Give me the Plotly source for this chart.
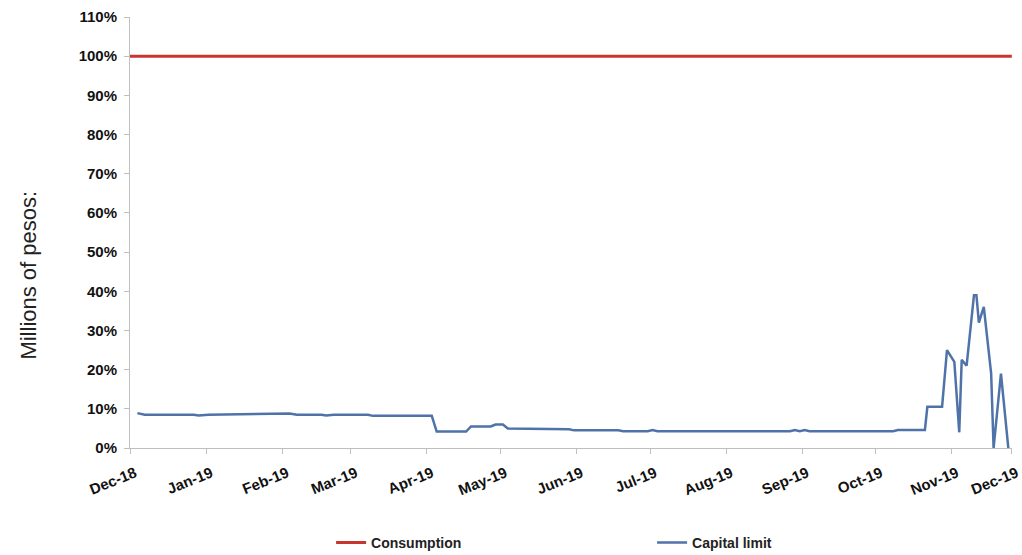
import plotly.graph_objects as go

# Consumption stays at the full 100 % level for the whole period
consumption_dates = ["2018-12-01", "2019-11-25 10:00"]
consumption_values = [1.00, 1.00]

# Capital limit as a share of consumption (breakpoints of the series)
capital_dates = [
    "2018-12-04", "2018-12-07", "2018-12-27", "2018-12-29", "2019-01-02",
    "2019-02-04", "2019-02-07", "2019-02-17", "2019-02-19", "2019-02-22",
    "2019-03-08", "2019-03-10", "2019-04-03", "2019-04-05", "2019-04-17",
    "2019-04-19", "2019-04-27", "2019-04-29", "2019-05-02", "2019-05-04",
    "2019-05-29", "2019-05-31", "2019-06-18", "2019-06-20", "2019-06-30",
    "2019-07-02", "2019-07-04", "2019-08-27", "2019-08-29", "2019-08-31",
    "2019-09-02", "2019-09-04", "2019-10-08", "2019-10-10", "2019-10-21",
    "2019-10-22", "2019-10-28", "2019-10-30", "2019-11-02", "2019-11-04",
    "2019-11-05", "2019-11-07", "2019-11-10", "2019-11-11", "2019-11-12",
    "2019-11-14", "2019-11-17", "2019-11-18", "2019-11-21", "2019-11-24",
]
capital_values = [
    0.089, 0.085, 0.085, 0.083, 0.085,
    0.088, 0.085, 0.085, 0.083, 0.085,
    0.085, 0.082, 0.082, 0.042, 0.042,
    0.055, 0.055, 0.060, 0.060, 0.050,
    0.048, 0.045, 0.045, 0.043, 0.043,
    0.046, 0.043, 0.043, 0.046, 0.043,
    0.046, 0.043, 0.043, 0.046, 0.046,
    0.105, 0.105, 0.250, 0.220, 0.040,
    0.225, 0.210, 0.390, 0.390, 0.320,
    0.360, 0.190, 0.000, 0.190, 0.000,
]

month_ticks = [
    "2018-12-01", "2019-01-01", "2019-02-01", "2019-03-01", "2019-04-01",
    "2019-05-01", "2019-06-01", "2019-07-01", "2019-08-01", "2019-09-01",
    "2019-10-01", "2019-11-01", "2019-11-25 08:00",
]
month_labels = [
    "Dec-18", "Jan-19", "Feb-19", "Mar-19", "Apr-19", "May-19", "Jun-19",
    "Jul-19", "Aug-19", "Sep-19", "Oct-19", "Nov-19", "Dec-19",
]

pct_ticks = [i / 10 for i in range(12)]

FONT = "Liberation Sans, Arial, sans-serif"

fig = go.Figure()
fig.add_trace(go.Scatter(
    x=consumption_dates, y=consumption_values, mode="lines",
    name="Consumption", line=dict(color="#C8352E", width=3),
))
fig.add_trace(go.Scatter(
    x=capital_dates, y=capital_values, mode="lines",
    name="Capital limit", line=dict(color="#4F73A8", width=2.5),
))

fig.update_layout(
    width=1022, height=555,
    margin=dict(l=130, r=10, t=17, b=107, autoexpand=False),
    plot_bgcolor="white", paper_bgcolor="white",
    font=dict(family=FONT, color="#111111"),
    showlegend=True,
    legend=dict(
        orientation="h", x=0.228, xanchor="left", y=-0.22, yanchor="middle",
        font=dict(family=FONT, size=14, color="#222222", weight="bold"),
        entrywidth=276, bgcolor="rgba(0,0,0,0)",
    ),
    annotations=[dict(
        text="Millions of pesos:", textangle=-90,
        xref="paper", yref="paper", x=-0.1145, y=0.40,
        xanchor="center", yanchor="middle", showarrow=False,
        font=dict(family=FONT, size=22, color="#222222"),
    )],
)

fig.update_xaxes(
    type="date",
    range=["2018-12-01", "2019-11-25 12:00"],
    tickmode="array", tickvals=month_ticks, ticktext=month_labels,
    tickangle=-22, ticklabelstandoff=5, ticklabelshift=5,
    tickfont=dict(family=FONT, size=15, color="#111111", weight="bold"),
    showgrid=False, zeroline=False, automargin=False,
    showline=True, linecolor="#BFBFBF", linewidth=1,
    ticks="outside", ticklen=5, tickcolor="#BFBFBF",
)

fig.update_yaxes(
    range=[0, 1.10],
    tickmode="array", tickvals=pct_ticks, tickformat=".0%",
    ticklabelstandoff=4,
    tickfont=dict(family=FONT, size=15, color="#111111", weight="bold"),
    showgrid=False, zeroline=False, automargin=False,
    showline=True, linecolor="#BFBFBF", linewidth=1,
    ticks="outside", ticklen=5, tickcolor="#BFBFBF",
)

fig.write_html("out.html")
